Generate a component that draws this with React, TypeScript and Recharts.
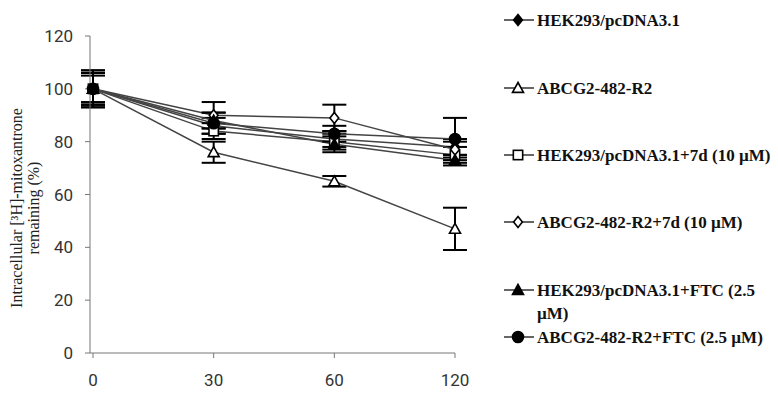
import { LineChart, Line, XAxis, YAxis, ErrorBar } from 'recharts'

const times = ['0', '30', '60', '120']
const yTicks = [0, 20, 40, 60, 80, 100, 120]

const series = [
  { name: 'HEK293/pcDNA3.1', shape: 'diamond', fill: true, values: [100, 86, 81, 78], errors: [6, 3, 3, 3] },
  { name: 'ABCG2-482-R2', shape: 'triangle', fill: false, values: [100, 76, 65, 47], errors: [7, 4, 2, 8] },
  { name: 'HEK293/pcDNA3.1+7d (10 µM)', shape: 'square', fill: false, values: [100, 84, 80, 75], errors: [5, 3, 3, 3] },
  { name: 'ABCG2-482-R2+7d (10 µM)', shape: 'diamond', fill: false, values: [100, 90, 89, 77], errors: [7, 5, 5, 3] },
  { name: 'HEK293/pcDNA3.1+FTC (2.5 µM)', shape: 'triangle', fill: true, values: [100, 88, 79, 73], errors: [6, 3, 3, 2] },
  { name: 'ABCG2-482-R2+FTC (2.5 µM)', shape: 'circle', fill: true, values: [100, 87, 83, 81], errors: [6, 4, 3, 8] },
]

const legendLabels = [
  ['HEK293/pcDNA3.1'],
  ['ABCG2-482-R2'],
  ['HEK293/pcDNA3.1+7d (10 µM)'],
  ['ABCG2-482-R2+7d (10 µM)'],
  ['HEK293/pcDNA3.1+FTC (2.5', 'µM)'],
  ['ABCG2-482-R2+FTC (2.5 µM)'],
]
const legendTops = [20, 88, 155, 222, 290, 337]

const rows = times.map((t, i) => {
  const r: any = { t }
  series.forEach((s, k) => {
    r['v' + k] = s.values[i]
    r['e' + k] = s.errors[i]
  })
  return r
})

function Marker({ cx, cy, shape, fill, size = 11 }: any) {
  const h = size / 2
  const f = fill ? '#000' : '#fff'
  const common = { fill: f, stroke: '#000', strokeWidth: 1.6 }
  if (shape === 'diamond') {
    return <polygon points={`${cx},${cy - h} ${cx + h * 0.8},${cy} ${cx},${cy + h} ${cx - h * 0.8},${cy}`} {...common} />
  }
  if (shape === 'triangle') {
    return <polygon points={`${cx},${cy - h} ${cx + h},${cy + h * 0.8} ${cx - h},${cy + h * 0.8}`} {...common} />
  }
  if (shape === 'square') {
    return <rect x={cx - h * 0.85} y={cy - h * 0.85} width={h * 1.7} height={h * 1.7} {...common} />
  }
  return <circle cx={cx} cy={cy} r={h} {...common} />
}

function LegendBox() {
  return (
    <div style={{ position: 'absolute', left: 500, top: 0, width: 278, height: 399 }}>
      {series.map((s, k) => (
        <div key={s.name} style={{ position: 'absolute', left: 0, top: legendTops[k] - 10 }}>
          <svg width={34} height={20} style={{ position: 'absolute', left: 2, top: 0 }}>
            <line x1={2} y1={10} x2={32} y2={10} stroke="#333" strokeWidth={1.5} />
            <Marker cx={16} cy={10} shape={s.shape} fill={s.fill} size={11} />
          </svg>
          <div style={{ position: 'absolute', left: 37, top: -1, whiteSpace: 'nowrap', fontFamily: '"Liberation Serif", serif', fontWeight: 'bold', fontSize: 17, lineHeight: '23px', color: '#111' }}>
            {legendLabels[k].map((l) => <div key={l}>{l}</div>)}
          </div>
        </div>
      ))}
    </div>
  )
}

function YLabel() {
  return (
    <text transform="translate(22,208) rotate(-90)" textAnchor="middle" fontFamily='"Liberation Serif", serif' fontSize={16} fill="#222">
      <tspan x={0} dy={0}>Intracellular [³H]-mitoxantrone</tspan>
      <tspan x={0} dy={17}>remaining (%)</tspan>
    </text>
  )
}

export default function App() {
  const tickStyle = { fontFamily: 'Roboto, sans-serif', fontSize: 17, fill: '#333' }
  return (
    <div style={{ position: 'absolute', left: 0, top: 0, width: 778, height: 399, background: '#fff' }}>
      <LineChart width={778} height={399} data={rows} margin={{ top: 36, left: 30, right: 323, bottom: 16 }}>
        <XAxis dataKey="t" stroke="#777" tick={tickStyle} tickSize={5} tickMargin={16} height={30} padding={{ left: 3, right: 0 }} />
        <YAxis domain={[0, 120]} ticks={yTicks} stroke="#777" tick={tickStyle} tickSize={5} tickMargin={12} width={60} interval={0} />
        {series.map((s, k) => (
          <Line
            key={s.name}
            dataKey={'v' + k}
            name={s.name}
            stroke="#444"
            strokeWidth={1.5}
            isAnimationActive={false}
            dot={(p: any) => <Marker key={p.index + '-' + k} cx={p.cx} cy={p.cy} shape={s.shape} fill={s.fill} size={11} />}
            activeDot={false}
          >
            <ErrorBar dataKey={'e' + k} width={12} stroke="#000" strokeWidth={2} direction="y" />
          </Line>
        ))}
        <YLabel />
      </LineChart>
      <LegendBox />
    </div>
  )
}
